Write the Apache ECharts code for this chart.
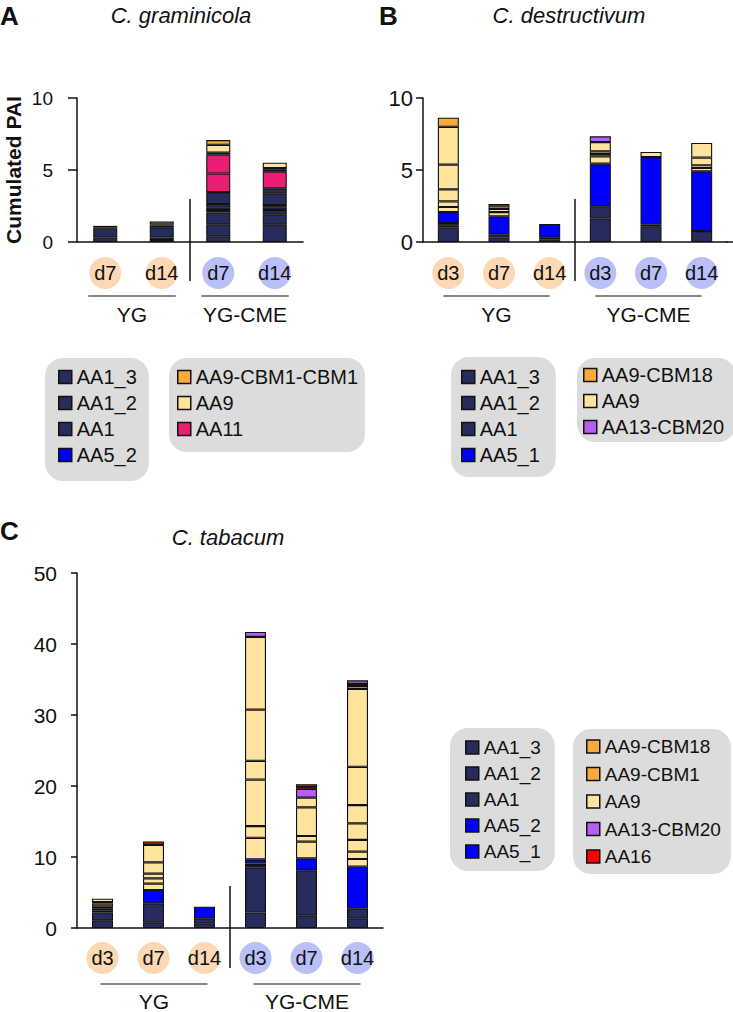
<!DOCTYPE html>
<html><head><meta charset="utf-8">
<script src="https://cdn.jsdelivr.net/npm/echarts@6/dist/echarts.min.js"></script>
<style>html,body{margin:0;padding:0;background:#fff}#c{width:733px;height:1012px}</style>
</head><body><div id="c"></div>
<script>
// ================= DATA =================
// Panel A — C. graminicola
const daysA   = ['d7','d14','d7','d14'];
const groupsA = ['YG','YG','YG-CME','YG-CME'];
const segsA_YG_d7   = [['AA1',0.32],['AA1_2',0.6],['AA1_3',0.1],['AA5_2',0.1]];
const segsA_YG_d14  = [['AA1',0.14],['AA1',0.18],['AA1_2',0.7],['AA1_3',0.12],['AA5_2',0.08],['AA9',0.2]];
const segsA_CME_d7  = [['AA1',0.37],['AA1',0.83],['AA1',0.84],['AA1',0.18],['AA1',0.19],['AA1_2',0.23],['AA1_3',0.83],['AA11',1.28],['AA11',1.31],['AA9',0.14],['AA9',0.55],['AA9-CBM1-CBM1',0.33]];
const segsA_CME_d14 = [['AA1',1.23],['AA1',0.69],['AA1',0.3],['AA1',0.19],['AA1',0.16],['AA1_2',0.81],['AA1_3',0.35],['AA11',1.15],['AA5_2',0.14],['AA5_2',0.12],['AA9',0.37]];
const orderA  = ['AA1','AA1_2','AA1_3','AA11','AA5_2','AA9','AA9-CBM1-CBM1'];
const legendA1 = ['AA1_3','AA1_2','AA1','AA5_2'];
const legendA2 = ['AA9-CBM1-CBM1','AA9','AA11'];

// Panel B — C. destructivum
const daysB   = ['d3','d7','d14','d3','d7','d14'];
const groupsB = ['YG','YG','YG','YG-CME','YG-CME','YG-CME'];
const segsB_YG_d3   = [['AA1',1.0],['AA1_2',0.16],['AA1_3',0.16],['AA5_1',0.76],['AA9',0.35],['AA9',0.39],['AA9',0.84],['AA9',1.71],['AA9',2.63],['AA9-CBM18',0.63]];
const segsB_YG_d7   = [['AA1',0.32],['AA1_2',0.19],['AA5_1',1.27],['AA9',0.3],['AA9',0.21],['AA9',0.19],['AA9-CBM18',0.16]];
const segsB_YG_d14  = [['AA1',0.16],['AA1_2',0.14],['AA5_1',0.95]];
const segsB_CME_d3  = [['AA1',1.64],['AA1_2',0.81],['AA5_1',2.99],['AA9',0.51],['AA9',0.16],['AA9',0.19],['AA9',0.64],['AA13-CBM20',0.4]];
const segsB_CME_d7  = [['AA1',1.1],['AA1_2',0.13],['AA5_1',4.67],['AA9',0.35]];
const segsB_CME_d14 = [['AA1',0.76],['AA5_1',4.15],['AA9',0.23],['AA9',0.19],['AA9',0.53],['AA9',1.02]];
const orderB  = ['AA1','AA1_2','AA1_3','AA5_1','AA9','AA9-CBM18','AA13-CBM20'];
const legendB1 = ['AA1_3','AA1_2','AA1','AA5_1'];
const legendB2 = ['AA9-CBM18','AA9','AA13-CBM20'];

// Panel C — C. tabacum
const daysC   = ['d3','d7','d14','d3','d7','d14'];
const groupsC = ['YG','YG','YG','YG-CME','YG-CME','YG-CME'];
const segsC_YG_d3   = [['AA1',1.03],['AA1_2',1.13],['AA1_3',0.28],['AA1_3',0.28],['AA9',0.33],['AA9',0.38],['AA9',0.23],['AA9',0.47]];
const segsC_YG_d7   = [['AA1',0.8],['AA1_2',2.67],['AA5_2',1.88],['AA9',0.89],['AA9',0.76],['AA9',0.65],['AA9',1.6],['AA9',2.45],['AA16',0.5]];
const segsC_YG_d14  = [['AA1',0.66],['AA1_2',0.7],['AA5_1',1.64]];
const segsC_CME_d3  = [['AA1',2.2],['AA1_2',6.34],['AA5_2',0.33],['AA5_1',0.23],['AA5_1',0.57],['AA9',3.03],['AA9',1.65],['AA9',6.55],['AA9',2.65],['AA9',7.2],['AA9',10.25],['AA13-CBM20',0.7]];
const segsC_CME_d7  = [['AA1',1.74],['AA1_2',6.34],['AA5_1',1.73],['AA9',2.35],['AA9',0.8],['AA9',4.04],['AA9',1.36],['AA13-CBM20',1.24],['AA13-CBM20',0.25],['AA16',0.4]];
const segsC_CME_d14 = [['AA1',1.36],['AA1_2',1.41],['AA5_1',5.87],['AA9',1.08],['AA9',1.03],['AA9',1.65],['AA9',2.34],['AA9',2.58],['AA9',5.38],['AA9',10.96],['AA9-CBM1',0.42],['AA9-CBM18',0.3],['AA13-CBM20',0.5]];
const orderC  = ['AA1','AA1_2','AA1_3','AA5_2','AA5_1','AA9','AA9-CBM1','AA9-CBM18','AA13-CBM20','AA16'];
const legendC1 = ['AA1_3','AA1_2','AA1','AA5_2','AA5_1'];
const legendC2 = ['AA9-CBM18','AA9-CBM1','AA9','AA13-CBM20','AA16'];

const ticksAB = [0, 5, 10];
const ticksC  = [0, 10, 20, 30, 40, 50];
const titles  = ['C. graminicola','C. destructivum','C. tabacum'];
const yTitle  = 'Cumulated PAI';

// ================= STYLE =================
const FONT = '"Liberation Sans", Arial, sans-serif';
const INK = '#111';
const COLORS = {'AA1':'#262c5b','AA1_2':'#262c5b','AA1_3':'#262c5b','AA5_1':'#0000ff','AA5_2':'#0000ff',
  'AA9':'#fde39b','AA9-CBM1':'#f9aa3c','AA9-CBM18':'#f9aa3c','AA9-CBM1-CBM1':'#f9aa3c',
  'AA11':'#ec1e74','AA13-CBM20':'#b55ef2','AA16':'#ff0000'};
const GRID = {A:{left:77,top:98,width:226,height:144}, B:{left:423,top:98,width:304,height:144}, C:{left:77,top:573,width:306,height:355}};

function buildSeries(bars, order, ax, stackId, barWidth){
  const out=[];
  order.forEach(f=>{
    const per = bars.map(b=>b.filter(s=>s[0]===f).map(s=>s[1]));
    const m = Math.max(0, ...per.map(p=>p.length));
    for(let j=0;j<m;j++){
      out.push({type:'bar', name:f, stack:stackId, xAxisIndex:ax, yAxisIndex:ax, barWidth,
        data: per.map(p=> j<p.length ? p[j] : '-'),
        itemStyle:{color:COLORS[f], borderColor:'#111', borderWidth:1.1},
        emphasis:{disabled:true}, silent:true});
    }
  });
  return out;
}
function circ(c){ return {backgroundColor:c, width:32, height:32, lineHeight:32, borderRadius:16, align:'center', fontSize:20, color:INK, fontFamily:FONT}; }
function xAx(grid, days, groups, margin){
  return {type:'category', gridIndex:grid, data: days.map((d,i)=>groups[i]+' '+d),
    axisTick:{show:false}, axisLine:{lineStyle:{color:INK,width:1.5}},
    axisLabel:{interval:0, margin, formatter:(v,i)=>(groups[i]==='YG'?'{a|':'{b|')+days[i]+'}',
      rich:{a:circ('#fcd9b4'), b:circ('#b9c0f8')}}};
}
function yAx(grid, ticks, fs, margin, tickLen, extra){
  return Object.assign({type:'value', gridIndex:grid, min:ticks[0], max:ticks[ticks.length-1], interval:ticks[1]-ticks[0],
    splitLine:{show:false}, axisLine:{show:true, lineStyle:{color:INK,width:1.5}},
    axisTick:{show:true, length:tickLen, lineStyle:{color:INK,width:1.5}},
    axisLabel:{fontSize:fs, margin, color:INK, fontFamily:FONT}}, extra||{});
}
function leg(data, left, top, padding, fs, gap){
  return {data, left, top, padding, orient:'vertical', icon:'rect', itemWidth:13, itemHeight:13, itemGap:gap,
    backgroundColor:'#dcdcdc', borderRadius:18, selectedMode:false,
    itemStyle:{borderColor:'#111', borderWidth:1.5},
    textStyle:{fontSize:fs, lineHeight:fs, color:INK, fontFamily:FONT}};
}

const barsA=[segsA_YG_d7,segsA_YG_d14,segsA_CME_d7,segsA_CME_d14];
const barsB=[segsB_YG_d3,segsB_YG_d7,segsB_YG_d14,segsB_CME_d3,segsB_CME_d7,segsB_CME_d14];
const barsC=[segsC_YG_d3,segsC_YG_d7,segsC_YG_d14,segsC_CME_d3,segsC_CME_d7,segsC_CME_d14];

const chart = echarts.init(document.getElementById('c'), null, {renderer:'svg'});
const option = {
  animation:false, backgroundColor:'#fff',
  textStyle:{fontFamily:FONT},
  grid:[GRID.A, GRID.B, GRID.C],
  xAxis:[xAx(0,daysA,groupsA,15), xAx(1,daysB,groupsB,15), xAx(2,daysC,groupsC,14)],
  yAxis:[
    yAx(0,ticksAB,19,24,9,{name:yTitle, nameLocation:'middle', nameRotate:90, nameGap:53,
      nameTextStyle:{fontSize:21, fontWeight:'bold', color:INK, fontFamily:FONT}}),
    yAx(1,ticksAB,22,10,7),
    yAx(2,ticksC,21,20,6)
  ],
  legend:[
    leg(legendA1,45,358,[9,12,16,13],20,6),
    leg(legendA2,169,358,[9,7,13,8],20,6),
    leg(legendB1,451,357,[10,16,12,10],20,6),
    leg(legendB2,577,358,[7,12,5,6],20,6),
    leg(legendC1,450,728,[10,14,10,15],19,7),
    leg(legendC2,573,729,[8,10,8,13],19,8.5)
  ],
  series:[].concat(buildSeries(barsA,orderA,0,'A',24), buildSeries(barsB,orderB,1,'B',21), buildSeries(barsC,orderC,2,'C',21))
};
chart.setOption(option);

// ---- decorations positioned from the axes ----
const g=[];
function txt(x,y,text,font,align){ g.push({type:'text', x, y, silent:true, style:{text, font, fill:INK, align:align||'center', verticalAlign:'middle'}}); }
function ln(x1,y1,x2,y2,w){ g.push({type:'line', silent:true, shape:{x1,y1,x2,y2}, style:{stroke:INK, lineWidth:w||1.5}}); }
function groupDeco(ax, groups, pads, lineY, labelY, sepUp, sepDown){
  const px=i=>chart.convertToPixel({xAxisIndex:ax}, i);
  const y0=chart.convertToPixel({yAxisIndex:ax}, 0);
  const uniq=[...new Set(groups)];
  uniq.forEach(gname=>{
    const f=groups.indexOf(gname), l=groups.lastIndexOf(gname);
    const x1=px(f)+pads[0], x2=px(l)+pads[1];
    ln(x1,lineY,x2,lineY,1.2);
    txt((x1+x2)/2,labelY,gname,'21px '+FONT);
  });
  const k=groups.indexOf(uniq[1]);
  const sx=(px(k-1)+px(k))/2;
  ln(sx,y0-sepUp,sx,y0+sepDown,1.5);
  return y0;
}
groupDeco(0,groupsA,[-17,14],296,314,43,39);
const yB=groupDeco(1,groupsB,[-5,0],296,314,43,39);
ln(GRID.B.left+GRID.B.width-1,yB,733,yB,1.5);
groupDeco(2,groupsC,[-2,3],984,1001,42,40);

txt(0,16,'A','bold 26px '+FONT,'left');
txt(181,15,titles[0],'italic 22px '+FONT);
txt(379,16,'B','bold 26px '+FONT,'left');
txt(569,15,titles[1],'italic 22px '+FONT);
txt(0,531,'C','bold 26px '+FONT,'left');
txt(228,537,titles[2],'italic 22px '+FONT);

chart.setOption({graphic:g});
</script></body></html>
